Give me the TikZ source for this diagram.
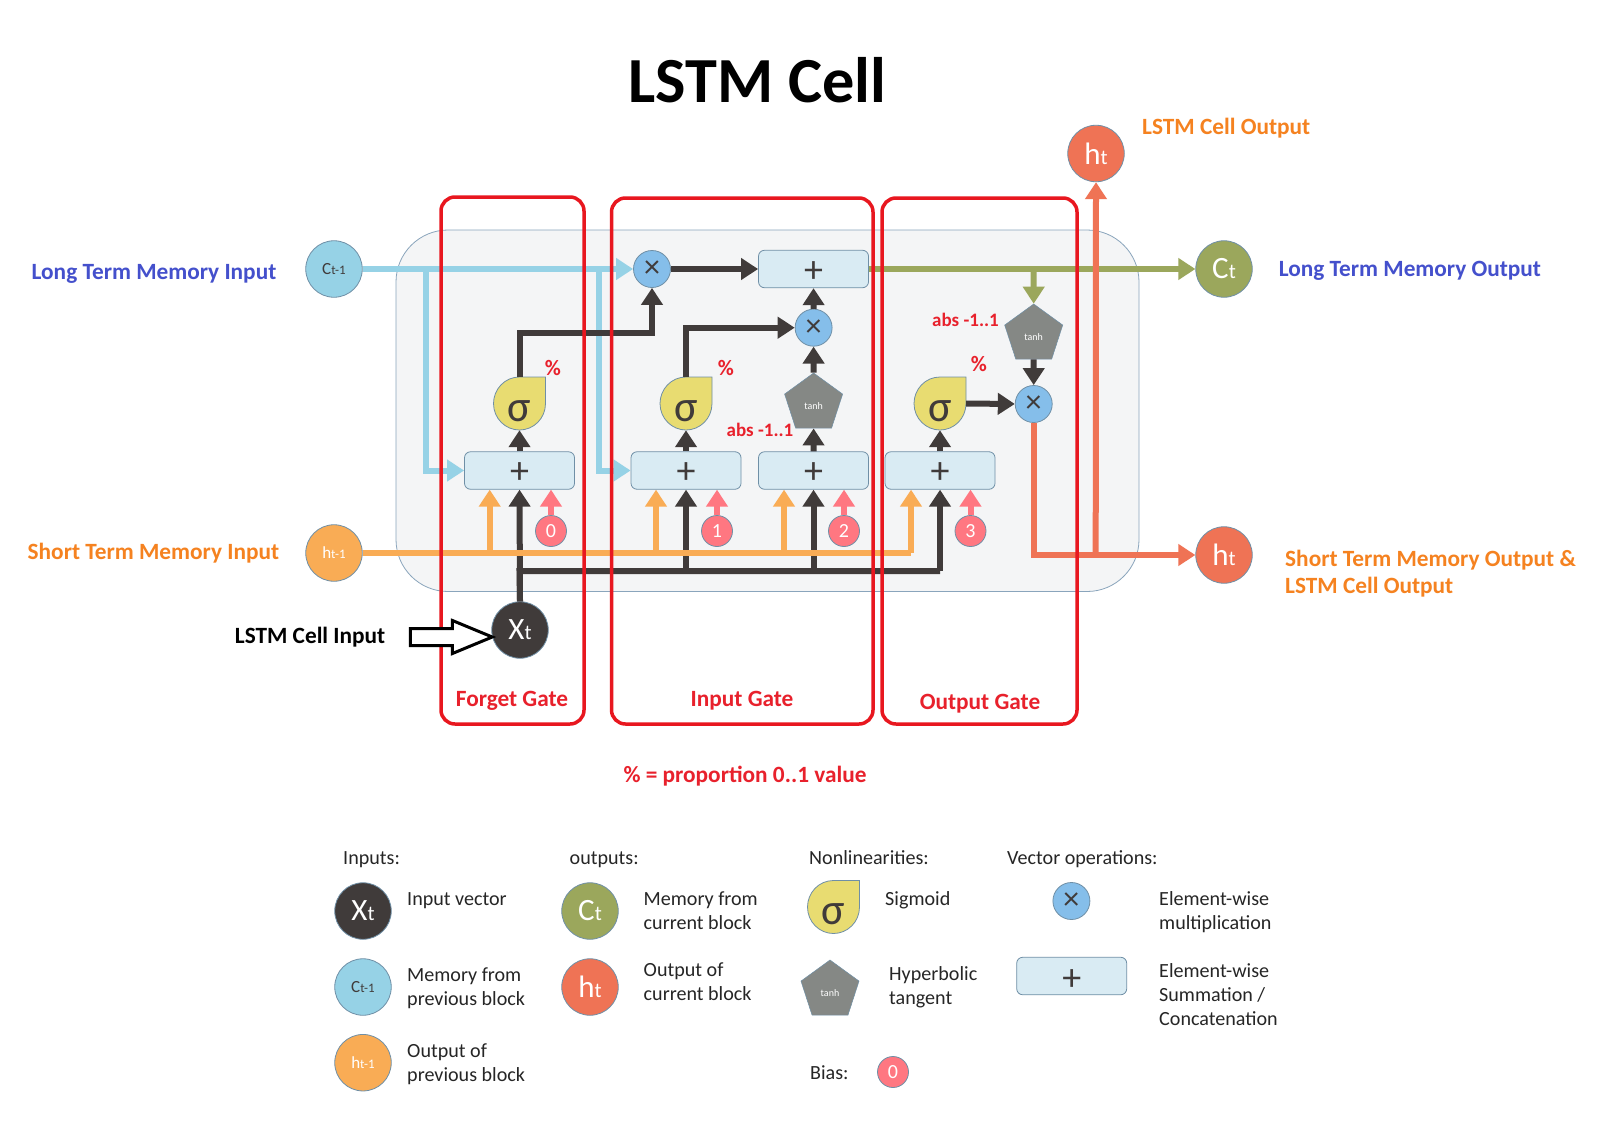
\documentclass[tikz,border=0pt]{standalone}
\usepackage{fontspec}
\setmainfont{Carlito}
\usetikzlibrary{arrows.meta,shapes.geometric,shapes.arrows}
\definecolor{cBlue}{HTML}{96D2E6}
\definecolor{cOrange}{HTML}{F9AC55}
\definecolor{cDark}{HTML}{403B3A}
\definecolor{cPink}{HTML}{FF7781}
\definecolor{cOlive}{HTML}{9BA75C}
\definecolor{cCoral}{HTML}{EF7355}
\definecolor{cYellow}{HTML}{E8DC71}
\definecolor{cGray}{HTML}{858885}
\definecolor{cTimes}{HTML}{85BEEA}
\definecolor{cBox}{HTML}{D9EBF3}
\definecolor{cEdge}{HTML}{6F8FA6}
\definecolor{cPanel}{HTML}{F4F5F6}
\definecolor{cPanelEdge}{HTML}{8AA5BC}
\definecolor{cRed}{HTML}{E8171F}
\definecolor{tBlue}{HTML}{4450CC}
\definecolor{tOrange}{HTML}{F58220}
\definecolor{tRed}{HTML}{E8212C}
\newcommand\fsz[1]{\fontsize{#1}{#1}\selectfont}
\newcommand\bigsub[2]{{\fsz{31}#1\fsz{21}#2}}
\newcommand\smallsub[2]{{\fsz{17}#1\fsz{13}#2}}
\newcommand\plussign{\raisebox{-13pt}[0pt][0pt]{+}}
\newcommand\tanhtext{\raisebox{-5.5pt}[0pt][0pt]{tanh}}
\newcommand\sigmashape[3]{%
  \fill[cYellow,draw=cEdge,line width=0.8pt]
    (#2+26,#3-26.5) -- (#2,#3-26.5) .. controls (#2-15,#3-26.5) and (#2-26,#3-14) .. (#2-26,#3)
    .. controls (#2-26,#3+15) and (#2-14,#3+26.5) .. (#2,#3+26.5)
    .. controls (#2+14,#3+26.5) and (#2+26,#3+15) .. (#2+26,#3) -- cycle;
  \node[sigmabox] (#1) at (#2,#3) {};
  \node[sigmatext] (#1t) at (#2,#3+7.5) {σ};}
\tikzset{
  x=1pt,y=-1pt,
  flow/.style={line width=6pt,-{Triangle[length=17pt,width=21pt]}},
  flowplain/.style={line width=6pt},
  opbox/.style={draw=cEdge,fill=cBox,line width=0.8pt,rounded corners=6pt,minimum width=110pt,minimum height=37.5pt,inner sep=0pt,text=cDark,font=\fsz{38}},
  timesn/.style={circle,draw=cEdge,fill=cTimes,line width=0.8pt,minimum size=37pt,inner sep=0pt,text=cDark,font=\fsz{32}},
  memn/.style={circle,draw=cEdge,line width=0.8pt,minimum size=56.5pt,inner sep=0pt},
  biasn/.style={circle,draw=cEdge,fill=cPink,line width=0.8pt,minimum size=31pt,inner sep=0pt,text=white,font=\fsz{20}},
  tanhn/.style={regular polygon,regular polygon sides=5,draw=cEdge,fill=cGray,line width=0.5pt,minimum size=61pt,inner sep=0pt,text=white,font=\fsz{10}},
  sigmabox/.style={rectangle,minimum width=52pt,minimum height=53pt,inner sep=0pt},
  sigmatext/.style={inner sep=0pt,text=cDark,font=\fsz{44}},
  gatebox/.style={draw=cRed,line width=3.5pt,rounded corners=14pt},
  lab/.style={inner sep=0pt,anchor=mid west,font=\bfseries\fsz{23.3}},
  redlab/.style={inner sep=0pt,text=tRed,font=\bfseries\fsz{19}},
  gatelab/.style={inner sep=0pt,text=tRed,font=\bfseries\fsz{23.3}},
  legt/.style={inner sep=0pt,anchor=west,align=left,text=black!85,font=\fontsize{20.1}{24}\selectfont},
}
\begin{document}
\begin{tikzpicture}
\useasboundingbox (0,0) rectangle (1600,1138);
\fill[white] (0,0) rectangle (1600,1138);
% panel
\draw[draw=cPanelEdge,fill=cPanel,line width=0.8pt,rounded corners=52pt] (396,230) rectangle (1139,591.5);
% named points
\coordinate (jBlueA) at (426,269);
\coordinate (jBlueB) at (598.5,269);
\coordinate (jOrA) at (489.7,553);
\coordinate (jOrB) at (656,553);
\coordinate (jOrC) at (784,553);
\coordinate (jOrD) at (911,553);
\coordinate (jDaB) at (686,571);
\coordinate (jDaC) at (813.5,571);
\coordinate (jDaD) at (940,571);
\coordinate (jOutC) at (1095.7,555);
\coordinate (jGreen) at (1033.7,269);
% nodes
\node[memn,fill=cBlue,text=cDark] (cin) at (334,269) {\smallsub{C}{t-1}};
\node[memn,fill=cOrange,text=white] (hin) at (334,553) {\smallsub{h}{t-1}};
\node[memn,fill=cDark,text=white] (xin) at (520,630) {\bigsub{X}{t}};
\node[memn,fill=cOlive,text=white] (cout) at (1224,269) {\bigsub{C}{t}};
\node[memn,fill=cCoral,text=white] (hout) at (1224,555) {\bigsub{h}{t}};
\node[memn,fill=cCoral,text=white] (htop) at (1096,153.5) {\bigsub{h}{t}};
\node[opbox] (bTop) at (813.5,269) {\plussign};
\node[opbox] (b1) at (519.5,470.5) {\plussign};
\node[opbox] (b2) at (686,470.5) {\plussign};
\node[opbox] (b3) at (813.5,470.5) {\plussign};
\node[opbox] (b4) at (940,470.5) {\plussign};
\node[timesn] (m1) at (652,269) {×};
\node[timesn] (m2) at (813.6,327.7) {×};
\node[timesn] (m3) at (1033.7,404) {×};
\sigmashape{s1}{519.5}{403.5}
\sigmashape{s2}{686}{403.5}
\sigmashape{s3}{940}{403.5}
\node[tanhn] (t1) at (813.6,403.5) {\tanhtext};
\node[tanhn] (t2) at (1033.7,334.5) {\tanhtext};
\node[biasn] (p0) at (551,531) {0};
\node[biasn] (p1) at (717,531) {1};
\node[biasn] (p2) at (844,531) {2};
\node[biasn] (p3) at (970.5,531) {3};
% blue
\draw[flow,cBlue] (cin) -- (m1);
\draw[flow,cBlue] (jBlueA) |- (b1.west);
\draw[flow,cBlue] (jBlueB) |- (b2.west);
% dark trunk
\draw[flowplain,cDark] (xin.north) -- (519.5,571) -- (jDaD);
% dark up
\draw[flow,cDark] (xin.north) -- (b1.south);
\draw[flow,cDark] (jDaB) -- (b2.south);
\draw[flow,cDark] (jDaC) -- (b3.south);
\draw[flow,cDark] (jDaD) -- (b4.south);
% orange
\draw[flow,cOrange] (jOrA) -- (jOrA |- b1.south);
\draw[flow,cOrange] (jOrB) -- (jOrB |- b2.south);
\draw[flow,cOrange] (jOrC) -- (jOrC |- b3.south);
\draw[flow,cOrange] (jOrD) -- (jOrD |- b4.south);
\draw[flowplain,cOrange] (hin) -- (jOrD);
% pink
\draw[flow,cPink] (p0) -- (p0 |- b1.south);
\draw[flow,cPink] (p1) -- (p1 |- b2.south);
\draw[flow,cPink] (p2) -- (p2 |- b3.south);
\draw[flow,cPink] (p3) -- (p3 |- b4.south);
% internal dark
\draw[flow,cDark] (b1.north) -- (s1.south);
\draw[flow,cDark] (b2.north) -- (s2.south);
\draw[flow,cDark] (b4.north) -- (s3.south);
\draw[flow,cDark] (b3.north) -- (t1.south);
\draw[flow,cDark] (t1.north) -- (m2.south);
\draw[flow,cDark] (m2.north) -- (bTop.south);
\draw[flow,cDark] (m1.east) -- (bTop.west);
\draw[flow,cDark,rounded corners=0pt] (s1.north) -- (519.5,332.7) -| (m1.south);
\draw[flow,cDark] (s2.north) |- (m2.west);
\draw[flow,cDark] (s3.east) -- (m3.west);
\draw[flow,cDark] (t2.south) -- (m3.north);
% green
\draw[flow,cOlive] (bTop.east) -- (cout.west);
\draw[flow,cOlive] (jGreen) -- (t2.north);
% coral
\draw[flow,cCoral] (m3.south) |- (hout.west);
\draw[flow,cCoral] (jOutC) -- (htop.south);
% gates
\draw[gatebox] (441,197) rectangle (584,724);
\draw[gatebox] (611.5,198) rectangle (873,724);
\draw[gatebox] (882,198) rectangle (1077,724);
% input arrow
\node[single arrow,draw=black,fill=white,line width=3pt,outer sep=0pt,minimum height=82pt,inner sep=0pt,single arrow head extend=8pt,single arrow tip angle=45] (inarrow) at (441,637) {\rule{0pt}{14pt}};
% title and labels
\node[inner sep=0pt,font=\bfseries\fsz{64.3}] (title) at (757.5,80) {LSTM Cell};
\node[lab,text=tOrange] (l1) at (1142,132) {LSTM Cell Output};
\node[lab,text=tBlue] (l2) at (31.5,277) {Long Term Memory Input};
\node[lab,text=tBlue] (l3) at (1278.6,274) {Long Term Memory Output};
\node[lab,text=tOrange] (l4) at (27.5,557.5) {Short Term Memory Input};
\node[lab,text=tOrange] (l5) at (1285,564) {Short Term Memory Output \&};
\node[lab,text=tOrange] (l6) at (1285,591.5) {LSTM Cell Output};
\node[lab,text=black] (l7) at (234.7,641.5) {LSTM Cell Input};
\node[gatelab] (g1) at (512,701) {Forget Gate};
\node[gatelab] (g2) at (742,701) {Input Gate};
\node[gatelab] (g3) at (980,704) {Output Gate};
\node[gatelab] (g4) at (745,776) {\% = proportion 0..1 value};
\node[redlab,font=\bfseries\fsz{22}] (pc1) at (553,368) {\%};
\node[redlab,font=\bfseries\fsz{22}] (pc2) at (726,368) {\%};
\node[redlab,font=\bfseries\fsz{22}] (pc3) at (979,364) {\%};
\node[redlab] (ab1) at (760,430) {abs -1..1};
\node[redlab] (ab2) at (965.5,320) {abs -1..1};
% legend
\node[legt] (h1) at (343,860) {Inputs:};
\node[legt] (h2) at (569.5,860) {outputs:};
\node[legt] (h3) at (809,858) {Nonlinearities:};
\node[legt] (h4) at (1007,859) {Vector operations:};
\node[memn,fill=cDark,text=white] (kx) at (363,911) {\bigsub{X}{t}};
\node[memn,fill=cBlue,text=cDark] (kc) at (363,987) {\smallsub{C}{t-1}};
\node[memn,fill=cOrange,text=white] (kh) at (363,1062.7) {\smallsub{h}{t-1}};
\node[memn,fill=cOlive,text=white] (kco) at (590,911) {\bigsub{C}{t}};
\node[memn,fill=cCoral,text=white] (kho) at (590,987) {\bigsub{h}{t}};
\sigmashape{ks}{833.5}{907}
\node[tanhn] (kt) at (830,990.5) {\tanhtext};
\node[biasn] (kb) at (893,1072) {0};
\node[timesn] (km) at (1071.4,901) {×};
\node[opbox] (kp) at (1071.7,976) {\raisebox{-14.5pt}[0pt][0pt]{+}};
\node[legt] (d1) at (407,901) {Input vector};
\node[legt] (d2) at (407,988) {Memory from\\previous block};
\node[legt] (d3) at (407,1064) {Output of\\previous block};
\node[legt] (d4) at (643.5,911) {Memory from\\current block};
\node[legt] (d5) at (643.5,982) {Output of\\current block};
\node[legt] (d6) at (885,900) {Sigmoid};
\node[legt] (d7) at (889,987) {Hyperbolic\\tangent};
\node[legt] (d8) at (810,1073) {Bias:};
\node[legt] (d9) at (1159,912) {Element-wise\\multiplication};
\node[legt] (d10) at (1159,994.5) {Element-wise\\Summation /\\Concatenation};
\end{tikzpicture}
\end{document}
